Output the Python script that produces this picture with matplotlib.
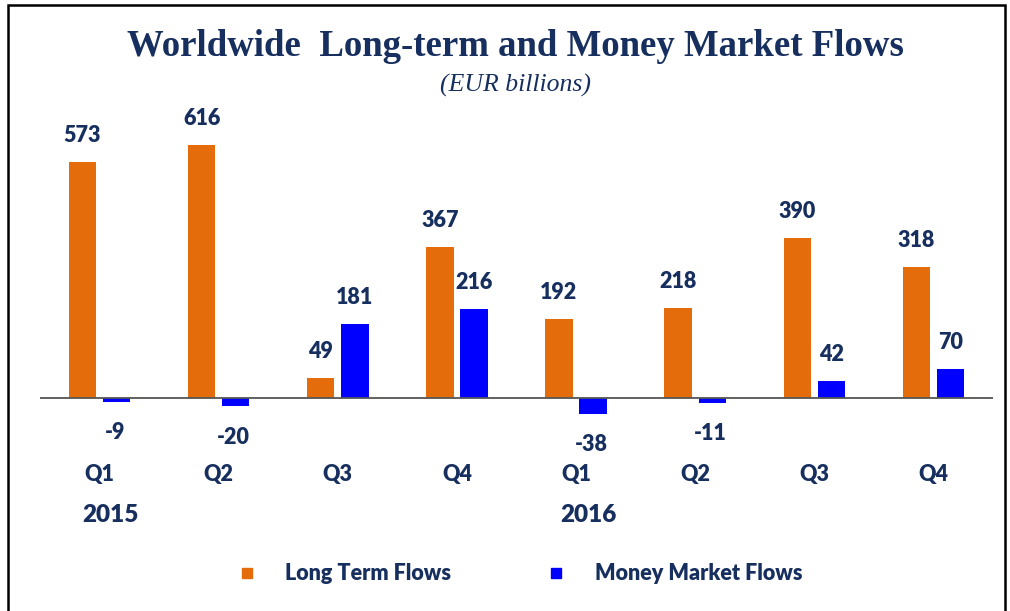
import numpy as np
import matplotlib.pyplot as plt
from matplotlib.patches import Rectangle
from matplotlib.lines import Line2D

quarters = ['Q1', 'Q2', 'Q3', 'Q4', 'Q1', 'Q2', 'Q3', 'Q4']
years = ['2015', '2016']
long_term = [573, 616, 49, 367, 192, 218, 390, 318]
money_market = [-9, -20, 181, 216, -38, -11, 42, 70]

navy = '#172F5F'
orange = '#E46C0A'
blue = '#0000FF'
sans = ['Lato', 'DejaVu Sans']
wt = 'heavy'

W, H = 1010, 611
fig = plt.figure(figsize=(W / 100, H / 100), dpi=100)
fig.patch.set_facecolor('white')

# axes: zero line at y=398 px, 0.411 px per unit
px_per_unit = 0.411
ax_top, ax_bot = 110, 520
ax = fig.add_axes([40 / W, (H - ax_bot) / H, (993 - 40) / W, (ax_bot - ax_top) / H])
ax.set_xlim(-0.5, 7.5)
ax.set_ylim(-(ax_bot - 398) / px_per_unit, (398 - ax_top) / px_per_unit)
ax.axis('off')

x = np.arange(len(quarters))
w = 0.23
off = 0.143
ax.bar(x - off, long_term, w, color=orange)
ax.bar(x + off, money_market, w, color=blue)
ax.axhline(0, color='#555555', lw=1.3, zorder=3)

for xs, vals in ((x - off, long_term), (x + off, money_market)):
    for xi, v in zip(xs, vals):
        if v >= 0:
            ax.annotate(str(v), (xi, v), xytext=(0, 16), textcoords='offset pixels',
                        ha='center', va='bottom', fontsize=15.5, fontweight=wt,
                        color=navy, family=sans)
        else:
            ax.annotate(str(v), (xi, v), xytext=(-2, -31), textcoords='offset pixels',
                        ha='center', va='center', fontsize=15.5, fontweight=wt,
                        color=navy, family=sans)

q_y = -77 / px_per_unit
for xi, q in zip(x, quarters):
    ax.text(xi, q_y, q, ha='center', va='center', fontsize=15.5, fontweight=wt,
            color=navy, family=sans)

yr_y = -117 / px_per_unit
ax.text(0.09, yr_y, years[0], ha='center', va='center', fontsize=17.5, fontweight=wt,
        color=navy, family=sans)
ax.text(4.1, yr_y, years[1], ha='center', va='center', fontsize=17.5, fontweight=wt,
        color=navy, family=sans)

fig.text(515 / W, 1 - 47 / H, 'Worldwide  Long-term and Money Market Flows',
         ha='center', va='center', fontsize=26.5, fontweight='bold', color=navy,
         family=['Liberation Serif', 'DejaVu Serif'])
fig.text(515 / W, 1 - 85 / H, '(EUR billions)', ha='center', va='center',
         fontsize=18.5, style='italic', color=navy,
         family=['Liberation Serif', 'DejaVu Serif'])

handles = [Line2D([], [], marker='s', ls='', markersize=7.5, color=orange),
           Line2D([], [], marker='s', ls='', markersize=7.5, color=blue)]
fig.legend(handles, ['Long Term Flows', 'Money Market Flows'], loc='center',
           bbox_to_anchor=(519 / W, 1 - 574 / H), ncol=2, frameon=False,
           handlelength=1, handletextpad=1.3, columnspacing=4.35,
           prop={'family': sans, 'weight': wt, 'size': 15.5}, labelcolor=navy)

frame = Rectangle((8 / W, -0.1), (1005 - 8) / W, 1.1 - 5 / H, transform=fig.transFigure,
                  fill=False, edgecolor='black', lw=1.8, clip_on=False)
fig.patches.append(frame)

fig.savefig('out.png', dpi=100)
